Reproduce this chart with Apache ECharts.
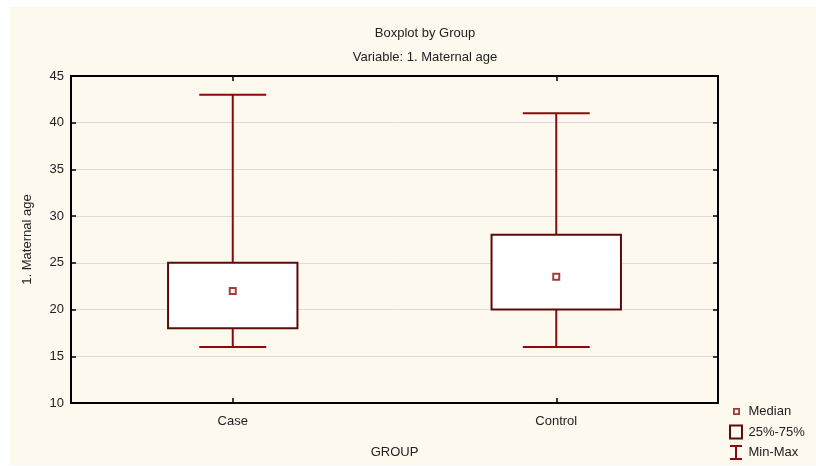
<!DOCTYPE html>
<html>
<head>
<meta charset="utf-8">
<script src="https://cdn.jsdelivr.net/npm/echarts@6/dist/echarts.min.js"></script>
<style>
  html, body { margin: 0; padding: 0; background: #fff; }
  #chart { width: 816px; height: 466px; }
</style>
</head>
<body>
<div id="chart"></div>
<script>
// data
const groups = ['Case', 'Control'];
const minVals = [16, 16];
const q1Vals = [18, 20];
const medianVals = [22, 23.5];
const q3Vals = [25, 28];
const maxVals = [43, 41];
const yTicks = [10, 15, 20, 25, 30, 35, 40, 45];

const boxColor = '#5c0a0a';
const whiskerColor = '#8b0a0a';
const font = 'Liberation Sans, Arial, sans-serif';
const narrow = 'Liberation Sans Narrow, Arial Narrow, Liberation Sans, sans-serif';

const myChart = echarts.init(document.getElementById('chart'));

const boxData = groups.map((g, i) => [i, q1Vals[i], q3Vals[i]]);
const whiskerData = groups.map((g, i) => [i, minVals[i], q1Vals[i], q3Vals[i], maxVals[i]]);
const medianData = groups.map((g, i) => [i, medianVals[i]]);

function bandWidth(api) {
  return api.size([1, 0])[0];
}

// tiny corner dots keep the icon's bounding box at 14x15 so the marker stays small
const corners = ' M0,0 L0.01,0 L0,0.01 Z M14,15 L13.99,15 L14,14.99 Z';

const tick = { show: true, inside: true, length: 5, lineStyle: { color: '#000', width: 1.5 } };

const option = {
  animation: false,
  backgroundColor: '#ffffff',
  graphic: [
    {
      type: 'rect', z: -10, silent: true,
      shape: { x: 10, y: 7, width: 806, height: 458 },
      style: { fill: '#fdf9ef' }
    }
  ],
  title: {
    text: 'Boxplot by Group',
    subtext: 'Variable: 1. Maternal age',
    left: 420, top: 22, textAlign: 'center', itemGap: 11,
    textStyle: { fontFamily: narrow, fontSize: 13, fontWeight: 'normal', color: '#222' },
    subtextStyle: { fontFamily: narrow, fontSize: 13, color: '#222' }
  },
  legend: {
    left: 729, top: 404, orient: 'vertical', padding: 0, itemGap: 5.5, itemWidth: 15, itemHeight: 15,
    textStyle: { fontFamily: font, fontSize: 13, color: '#222' },
    data: [
      { name: 'Median',
        icon: 'path://M4,4 L11,4 L11,11 L4,11 Z M5.8,5.8 L5.8,9.2 L9.2,9.2 L9.2,5.8 Z' + corners,
        itemStyle: { color: whiskerColor, borderWidth: 0 } },
      { name: '25%-75%', icon: 'path://M0,0 L14,0 L14,15 L0,15 Z M2,2 L2,13 L12,13 L12,2 Z',
        itemStyle: { color: boxColor, borderWidth: 0 } },
      { name: 'Min-Max', icon: 'path://M1,0 L13,0 L13,2 L8,2 L8,13 L13,13 L13,15 L1,15 L1,13 L6,13 L6,2 L1,2 Z',
        itemStyle: { color: whiskerColor, borderWidth: 0 } }
    ]
  },
  grid: { left: 71, right: 98, top: 76, bottom: 63, show: false },
  xAxis: [
    {
      type: 'category', data: groups, position: 'bottom',
      name: 'GROUP', nameLocation: 'middle', nameGap: 43,
      nameTextStyle: { fontFamily: font, fontSize: 13, color: '#222' },
      axisLine: { show: true, lineStyle: { color: '#000', width: 2 } },
      axisTick: Object.assign({ alignWithLabel: true }, tick),
      axisLabel: { fontFamily: font, fontSize: 13, color: '#222', margin: 12 },
      splitLine: { show: false }
    },
    {
      type: 'category', data: groups, position: 'top',
      axisLine: { show: true, lineStyle: { color: '#000', width: 2 } },
      axisTick: Object.assign({ alignWithLabel: true }, tick),
      axisLabel: { show: false },
      splitLine: { show: false }
    }
  ],
  yAxis: [
    {
      type: 'value', min: yTicks[0], max: yTicks[yTicks.length - 1], interval: 5, position: 'left',
      name: '1. Maternal age', nameLocation: 'middle', nameGap: 37, nameRotate: 90,
      nameTextStyle: { fontFamily: font, fontSize: 13, color: '#222' },
      axisLine: { show: true, lineStyle: { color: '#000', width: 2 } },
      axisTick: tick,
      axisLabel: { fontFamily: font, fontSize: 13, color: '#222', margin: 7 },
      splitLine: { show: true, lineStyle: { color: '#dcdcdc', width: 1 } }
    },
    {
      type: 'value', min: yTicks[0], max: yTicks[yTicks.length - 1], interval: 5, position: 'right',
      axisLine: { show: true, lineStyle: { color: '#000', width: 2 } },
      axisTick: tick,
      axisLabel: { show: false },
      splitLine: { show: false }
    }
  ],
  series: [
    {
      name: 'Min-Max', type: 'custom', data: whiskerData, z: 2,
      itemStyle: { color: whiskerColor },
      renderItem: function (params, api) {
        const x = api.value(0);
        const half = bandWidth(api) * 0.1035;
        const pMin = api.coord([x, api.value(1)]);
        const pQ1 = api.coord([x, api.value(2)]);
        const pQ3 = api.coord([x, api.value(3)]);
        const pMax = api.coord([x, api.value(4)]);
        const st = { stroke: whiskerColor, lineWidth: 2 };
        return {
          type: 'group',
          children: [
            { type: 'line', shape: { x1: pMin[0], y1: pMin[1], x2: pQ1[0], y2: pQ1[1] }, style: st },
            { type: 'line', shape: { x1: pQ3[0], y1: pQ3[1], x2: pMax[0], y2: pMax[1] }, style: st },
            { type: 'line', shape: { x1: pMin[0] - half, y1: pMin[1], x2: pMin[0] + half, y2: pMin[1] }, style: st },
            { type: 'line', shape: { x1: pMax[0] - half, y1: pMax[1], x2: pMax[0] + half, y2: pMax[1] }, style: st }
          ]
        };
      }
    },
    {
      name: '25%-75%', type: 'custom', data: boxData, z: 3,
      itemStyle: { color: boxColor },
      renderItem: function (params, api) {
        const x = api.value(0);
        const half = bandWidth(api) * 0.2;
        const lo = api.coord([x, api.value(1)]);
        const hi = api.coord([x, api.value(2)]);
        return {
          type: 'rect',
          shape: { x: lo[0] - half, y: hi[1], width: half * 2, height: lo[1] - hi[1] },
          style: { fill: '#ffffff', stroke: boxColor, lineWidth: 2 }
        };
      }
    },
    {
      name: 'Median', type: 'scatter', data: medianData, z: 4,
      symbol: 'rect', symbolSize: 6,
      itemStyle: { color: '#ffffff', borderColor: whiskerColor, borderWidth: 2 }
    }
  ]
};

option && myChart.setOption(option);
</script>
</body>
</html>
